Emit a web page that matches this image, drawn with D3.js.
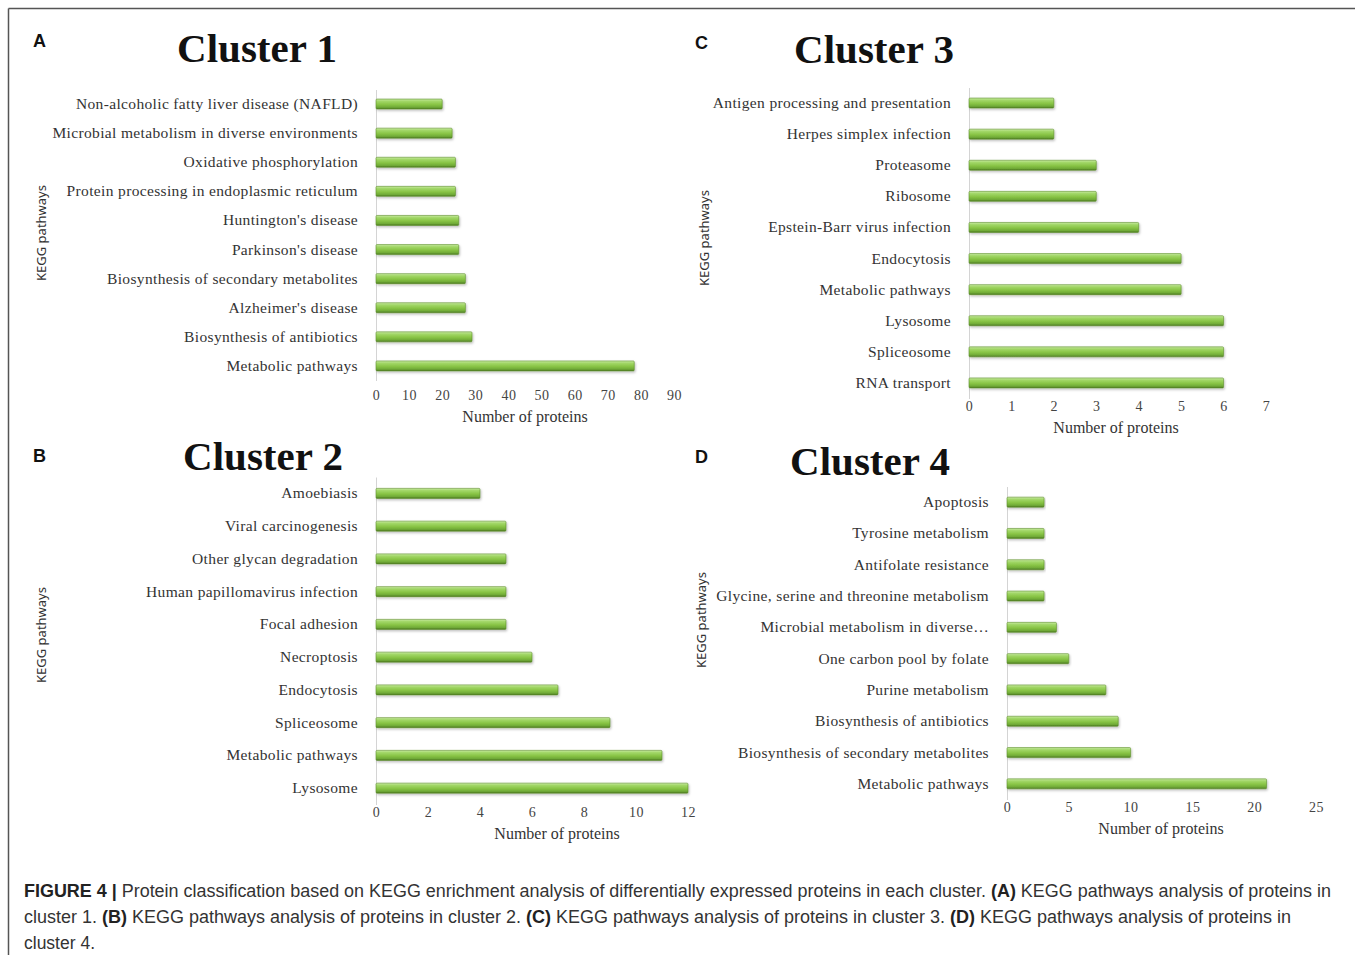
<!DOCTYPE html>
<html>
<head>
<meta charset="utf-8">
<script src="https://cdn.jsdelivr.net/npm/d3@7"></script>
<style>
  html, body { margin: 0; padding: 0; background: #fff; }
  svg { display: block; }
</style>
</head>
<body>
<svg id="fig" width="1355" height="955"></svg>
<script>
// KEGG pathway enrichment: protein counts per pathway in each cluster
const cluster1Pathways = [
  "Non-alcoholic fatty liver disease (NAFLD)",
  "Microbial metabolism in diverse environments",
  "Oxidative phosphorylation",
  "Protein processing in endoplasmic reticulum",
  "Huntington's disease",
  "Parkinson's disease",
  "Biosynthesis of secondary metabolites",
  "Alzheimer's disease",
  "Biosynthesis of antibiotics",
  "Metabolic pathways"
];
const cluster1Counts = [20, 23, 24, 24, 25, 25, 27, 27, 29, 78];
const cluster1Ticks = [0, 10, 20, 30, 40, 50, 60, 70, 80, 90];

const cluster2Pathways = [
  "Amoebiasis",
  "Viral carcinogenesis",
  "Other glycan degradation",
  "Human papillomavirus infection",
  "Focal adhesion",
  "Necroptosis",
  "Endocytosis",
  "Spliceosome",
  "Metabolic pathways",
  "Lysosome"
];
const cluster2Counts = [4, 5, 5, 5, 5, 6, 7, 9, 11, 12];
const cluster2Ticks = [0, 2, 4, 6, 8, 10, 12];

const cluster3Pathways = [
  "Antigen processing and presentation",
  "Herpes simplex infection",
  "Proteasome",
  "Ribosome",
  "Epstein-Barr virus infection",
  "Endocytosis",
  "Metabolic pathways",
  "Lysosome",
  "Spliceosome",
  "RNA transport"
];
const cluster3Counts = [2, 2, 3, 3, 4, 5, 5, 6, 6, 6];
const cluster3Ticks = [0, 1, 2, 3, 4, 5, 6, 7];

const cluster4Pathways = [
  "Apoptosis",
  "Tyrosine metabolism",
  "Antifolate resistance",
  "Glycine, serine and threonine metabolism",
  "Microbial metabolism in diverse…",
  "One carbon pool by folate",
  "Purine metabolism",
  "Biosynthesis of antibiotics",
  "Biosynthesis of secondary metabolites",
  "Metabolic pathways"
];
const cluster4Counts = [3, 3, 3, 3, 4, 5, 8, 9, 10, 21];
const cluster4Ticks = [0, 5, 10, 15, 20, 25];

const panelLetters = ["A", "B", "C", "D"];
const panelTitles = ["Cluster 1", "Cluster 2", "Cluster 3", "Cluster 4"];
const yAxisTitle = "KEGG pathways";
const xAxisTitle = "Number of proteins";

const captionLines = [
  [["FIGURE 4 | ", true], ["Protein classification based on KEGG enrichment analysis of differentially expressed proteins in each cluster. ", false], ["(A)", true], [" KEGG pathways analysis of proteins in", false]],
  [["cluster 1. ", false], ["(B)", true], [" KEGG pathways analysis of proteins in cluster 2. ", false], ["(C)", true], [" KEGG pathways analysis of proteins in cluster 3. ", false], ["(D)", true], [" KEGG pathways analysis of proteins in", false]],
  [["cluster 4.", false]]
];

// Panel layout (pixel geometry of each plot area)
const panels = [
  { letter: panelLetters[0], title: panelTitles[0], cats: cluster1Pathways, vals: cluster1Counts, ticks: cluster1Ticks,
    x0: 376, x1: 674, top: 89.5, bottom: 380.5, tickY: 401, axTitleY: 422, axTitleX: 525,
    titleX: 257, titleY: 62, letterX: 33, letterY: 47, yTitleX: 46, yTitleY: 233 },
  { letter: panelLetters[1], title: panelTitles[1], cats: cluster2Pathways, vals: cluster2Counts, ticks: cluster2Ticks,
    x0: 376, x1: 688, top: 477, bottom: 804.5, tickY: 818, axTitleY: 839, axTitleX: 557,
    titleX: 263, titleY: 470, letterX: 33, letterY: 462, yTitleX: 46, yTitleY: 635 },
  { letter: panelLetters[2], title: panelTitles[2], cats: cluster3Pathways, vals: cluster3Counts, ticks: cluster3Ticks,
    x0: 969, x1: 1266, top: 87.5, bottom: 398.5, tickY: 412, axTitleY: 433, axTitleX: 1116,
    titleX: 874, titleY: 63, letterX: 695, letterY: 49, yTitleX: 709, yTitleY: 238 },
  { letter: panelLetters[3], title: panelTitles[3], cats: cluster4Pathways, vals: cluster4Counts, ticks: cluster4Ticks,
    x0: 1007, x1: 1316, top: 486.5, bottom: 799.5, tickY: 813, axTitleY: 834, axTitleX: 1161,
    titleX: 870, titleY: 475, letterX: 695, letterY: 463, yTitleX: 706, yTitleY: 620 }
];

const svg = d3.select("#fig");

// Gradient for the bevelled green bars
const defs = svg.append("defs");
const grad = defs.append("linearGradient")
  .attr("id", "barGreen").attr("x1", 0).attr("y1", 0).attr("x2", 0).attr("y2", 1);
[[0, "#c8eaa2"], [0.22, "#a2d768"], [0.55, "#88c445"], [0.82, "#70aa37"], [1, "#4a7620"]]
  .forEach(([o, c]) => grad.append("stop").attr("offset", o).attr("stop-color", c));
const shadow = defs.append("filter").attr("id", "barShadow")
  .attr("x", "-5%").attr("y", "-50%").attr("width", "110%").attr("height", "220%");
shadow.append("feDropShadow").attr("dx", 1).attr("dy", 1.5).attr("stdDeviation", 1.2)
  .attr("flood-color", "#000").attr("flood-opacity", 0.25);

// Figure frame (top and left rules)
svg.append("line").attr("x1", 8.5).attr("y1", 8.5).attr("x2", 1355).attr("y2", 8.5)
  .attr("stroke", "#555").attr("stroke-width", 1.5);
svg.append("line").attr("x1", 8.5).attr("y1", 8.5).attr("x2", 8.5).attr("y2", 955)
  .attr("stroke", "#555").attr("stroke-width", 1.5);

const serif = "'Liberation Serif', 'Times New Roman', serif";

panels.forEach(p => {
  const g = svg.append("g");
  const maxTick = p.ticks[p.ticks.length - 1];
  const x = d3.scaleLinear().domain([0, maxTick]).range([p.x0, p.x1]);
  const y = d3.scaleBand().domain(p.cats).range([p.top, p.bottom]).padding(0);
  const barH = 10;

  // panel letter
  g.append("text").attr("x", p.letterX).attr("y", p.letterY)
    .attr("font-family", "'Liberation Sans', Arial, sans-serif").attr("font-weight", "bold")
    .attr("font-size", 18).attr("fill", "#111").text(p.letter);

  // panel title
  g.append("text").attr("x", p.titleX).attr("y", p.titleY).attr("text-anchor", "middle")
    .attr("font-family", serif).attr("font-weight", "bold").attr("font-size", 41)
    .attr("fill", "#111").text(p.title);

  // category axis (left)
  const yAxis = d3.axisLeft(y).tickSize(0).tickPadding(18);
  const ya = g.append("g").attr("transform", `translate(${p.x0},0)`).call(yAxis);
  ya.select(".domain").attr("stroke", "#d4d4d4").attr("stroke-width", 1);
  ya.selectAll("text").attr("font-family", serif).attr("font-size", 15.5)
    .attr("letter-spacing", 0.35).attr("fill", "#333");

  // bars
  g.append("g").selectAll("rect").data(p.cats).join("rect")
    .attr("x", x(0))
    .attr("y", (d, i) => y(d) + y.bandwidth() / 2 - barH / 2)
    .attr("width", (d, i) => x(p.vals[i]) - x(0))
    .attr("height", barH)
    .attr("rx", 1)
    .attr("fill", "url(#barGreen)")
    .attr("stroke", "#5e8f2c").attr("stroke-width", 0.6)
    .attr("filter", "url(#barShadow)");

  // value axis (bottom, labels only)
  const xAxis = d3.axisBottom(x).tickValues(p.ticks).tickSize(0).tickPadding(0).tickFormat(d3.format("d"));
  const xa = g.append("g").attr("transform", `translate(0,${p.tickY - 11})`).call(xAxis);
  xa.select(".domain").remove();
  xa.selectAll("text").attr("font-family", serif).attr("font-size", 14)
    .attr("letter-spacing", 0.5).attr("fill", "#444");

  // axis titles
  g.append("text").attr("x", p.axTitleX).attr("y", p.axTitleY).attr("text-anchor", "middle")
    .attr("font-family", serif).attr("font-size", 16).attr("fill", "#333").text(xAxisTitle);
  g.append("text").attr("transform", `translate(${p.yTitleX},${p.yTitleY}) rotate(-90)`)
    .attr("text-anchor", "middle").attr("font-family", "'Noto Sans', 'DejaVu Sans', sans-serif")
    .attr("font-size", 13).attr("fill", "#333").text(yAxisTitle);
});

// Caption
const caption = svg.append("g");
const captionY = [897, 923, 949];
const captionWidths = [1307, 1267, null];
captionLines.forEach((line, i) => {
  const t = caption.append("text").attr("x", 24).attr("y", captionY[i])
    .attr("font-family", "'Liberation Sans', Arial, sans-serif").attr("font-size", 17.5).attr("fill", "#333");
  if (captionWidths[i]) t.attr("textLength", captionWidths[i]).attr("lengthAdjust", "spacingAndGlyphs");
  line.forEach(([s, bold]) => {
    t.append("tspan").attr("font-weight", bold ? "bold" : "normal")
      .attr("fill", bold ? "#222" : "#333").text(s);
  });
});
</script>
</body>
</html>
